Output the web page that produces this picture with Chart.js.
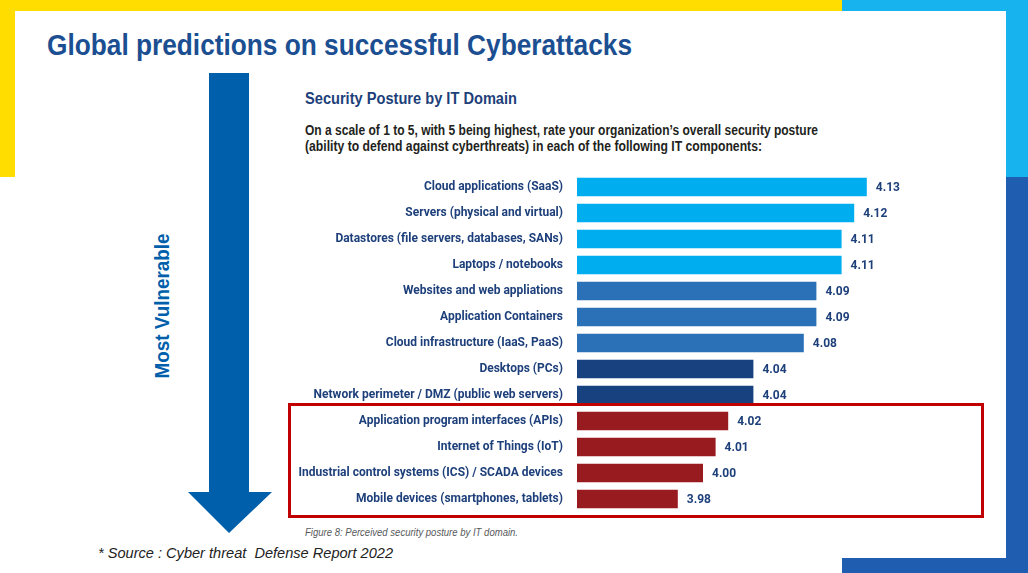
<!DOCTYPE html>
<html>
<head>
<meta charset="utf-8">
<script src="https://cdn.jsdelivr.net/npm/chart.js@4.4.0/dist/chart.umd.min.js"></script>
<style>
  body { margin: 0; width: 1028px; height: 573px; position: relative; overflow: hidden; background: #fff;
         font-family: 'Liberation Sans', Arial, sans-serif; }
  .blk { position: absolute; }
  .txt { position: absolute; white-space: pre; transform-origin: 0 0; line-height: 1; }
</style>
</head>
<body>
<!-- slide frame -->
<div class="blk" style="left:0;top:0;width:842px;height:11px;background:#ffdd00"></div>
<div class="blk" style="left:0;top:0;width:15px;height:177px;background:#ffdd00"></div>
<div class="blk" style="left:842px;top:0;width:186px;height:11px;background:#17b3ee"></div>
<div class="blk" style="left:1006px;top:0;width:22px;height:177px;background:#17b3ee"></div>
<div class="blk" style="left:1006px;top:177px;width:22px;height:396px;background:#1f5db0"></div>
<div class="blk" style="left:842px;top:558px;width:186px;height:15px;background:#1f5db0"></div>

<div class="txt" data-w="585" style="left:47px;top:31px;font-size:29px;font-weight:bold;color:#1b4f92">Global predictions on successful Cyberattacks</div>

<svg class="blk" style="left:0;top:0" width="1028" height="573">
  <polygon points="209,73 249,73 249,492 272,492 229,533 188,492 209,492" fill="#005fab"/>
</svg>
<div class="txt" id="vuln" style="font-size:20px;font-weight:bold;color:#005fab">Most Vulnerable</div>

<div class="txt" data-w="212" style="left:305px;top:91px;font-size:16px;font-weight:bold;color:#1d3f7a">Security Posture by IT Domain</div>
<div class="txt" data-w="513" style="left:305px;top:123px;font-size:14px;font-weight:bold;color:#231f20">On a scale of 1 to 5, with 5 being highest, rate your organization’s overall security posture</div>
<div class="txt" data-w="457" style="left:305px;top:139px;font-size:14px;font-weight:bold;color:#231f20">(ability to defend against cyberthreats) in each of the following IT components:</div>

<div style="position:absolute;left:288px;top:174px;width:667px;height:338px">
  <canvas id="postureChart"></canvas>
</div>

<div class="blk" style="left:288px;top:403px;width:696px;height:115px;border:3px solid #c00000;box-sizing:border-box"></div>

<div class="txt" data-w="213" style="left:305px;top:528px;font-size:10px;font-style:italic;color:#58595b">Figure 8: Perceived security posture by IT domain.</div>
<div class="txt" data-w="295" style="left:98px;top:545px;font-size:15px;font-style:italic;color:#222">* Source : Cyber threat  Defense Report 2022</div>

<script>
const categories = [
  'Cloud applications (SaaS)',
  'Servers (physical and virtual)',
  'Datastores (file servers, databases, SANs)',
  'Laptops / notebooks',
  'Websites and web appliations',
  'Application Containers',
  'Cloud infrastructure (IaaS, PaaS)',
  'Desktops (PCs)',
  'Network perimeter / DMZ (public web servers)',
  'Application program interfaces (APIs)',
  'Internet of Things (IoT)',
  'Industrial control systems (ICS) / SCADA devices',
  'Mobile devices (smartphones, tablets)'
];
const scores = [4.13, 4.12, 4.11, 4.11, 4.09, 4.09, 4.08, 4.04, 4.04, 4.02, 4.01, 4.00, 3.98];
const tiers = [0, 0, 0, 0, 1, 1, 1, 2, 2, 3, 3, 3, 3];

const tierColors = ['#00adef', '#2a71b8', '#17427f', '#981b1f'];
const textBlue = '#1d3f7a';

// squeeze slide text to the widths in the picture
document.querySelectorAll('.txt[data-w]').forEach(el => {
  const w = el.getBoundingClientRect().width;
  el.style.transform = 'scaleX(' + (parseFloat(el.dataset.w) / w) + ')';
});
const vuln = document.getElementById('vuln');
const vw = vuln.getBoundingClientRect().width, vh = vuln.getBoundingClientRect().height;
vuln.style.transformOrigin = '50% 50%';
vuln.style.left = (162 - vw / 2) + 'px';
vuln.style.top = (306 - vh / 2) + 'px';
vuln.style.transform = 'rotate(-90deg) scaleX(' + (145 / vw) + ')';

const valueLabels = {
  id: 'valueLabels',
  afterDatasetsDraw(chart) {
    const ctx = chart.ctx;
    const meta = chart.getDatasetMeta(0);
    ctx.save();
    ctx.font = 'bold 12px Roboto, "Liberation Sans", sans-serif';
    ctx.fillStyle = textBlue;
    ctx.textBaseline = 'middle';
    meta.data.forEach((bar, i) => {
      ctx.fillText(scores[i].toFixed(2), bar.x + 9, bar.y + 1);
    });
    ctx.restore();
  }
};

new Chart(document.getElementById('postureChart'), {
  type: 'bar',
  data: {
    labels: categories,
    datasets: [{
      data: scores,
      backgroundColor: tiers.map(t => tierColors[t]),
      barPercentage: 0.72,
      categoryPercentage: 1
    }]
  },
  options: {
    indexAxis: 'y',
    responsive: true,
    maintainAspectRatio: false,
    animation: false,
    layout: { padding: 0 },
    plugins: {
      legend: { display: false },
      tooltip: { enabled: false }
    },
    scales: {
      x: { min: 3.9, max: 4.2, display: false },
      y: {
        grid: { display: false },
        border: { display: false },
        ticks: {
          color: textBlue,
          padding: 6,
          autoSkip: false,
          font: { family: 'Roboto, "Liberation Sans", sans-serif', weight: 'bold', size: 12 }
        },
        afterFit(scale) {
          scale.width = 289;
          scale.paddingTop = 0;
          scale.paddingBottom = 0;
        }
      }
    }
  },
  plugins: [valueLabels]
});
</script>
</body>
</html>
